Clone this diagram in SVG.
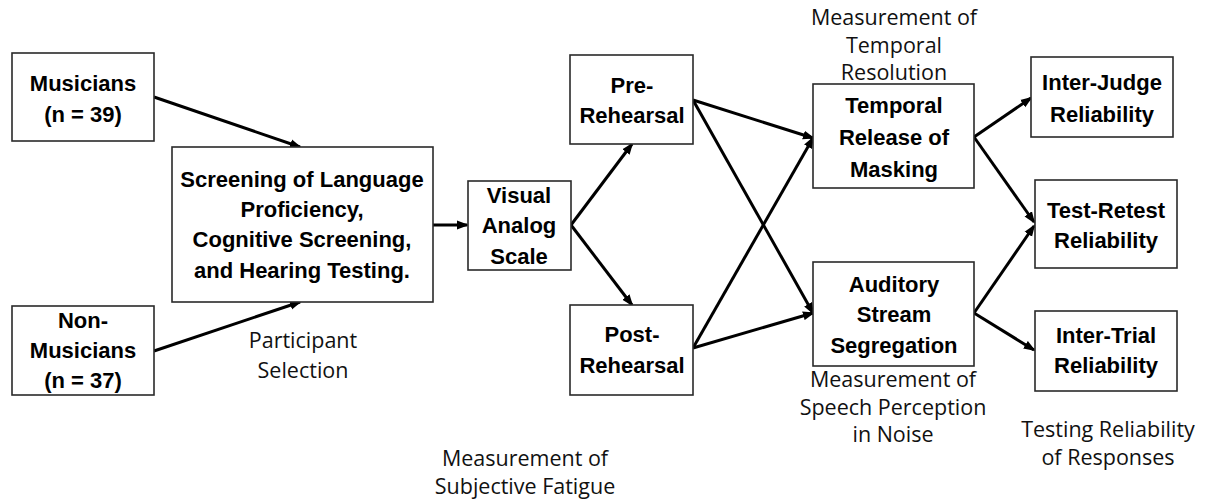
<svg xmlns="http://www.w3.org/2000/svg" width="1205" height="504" viewBox="0 0 1205 504">
<style>
.box{fill:#fff;stroke:#2a2a2a;stroke-width:1.6}
.t{font-family:"Liberation Sans",Arial,sans-serif;font-weight:bold;font-size:22px;fill:#000;text-anchor:middle}
.l{font-family:"Open Sans","Liberation Sans",sans-serif;font-size:21.5px;fill:#111;text-anchor:middle}
.c{stroke:#000;stroke-width:3;fill:none;marker-end:url(#ah)}
</style>
<defs>
<marker id="ah" markerUnits="userSpaceOnUse" markerWidth="12" markerHeight="10" refX="10" refY="5" orient="auto">
<path d="M0,0.5 L12,5 L0,9.5 Z" fill="#000"/>
</marker>
</defs>
<rect width="1205" height="504" fill="#fff"/>
<g id="connectors">
<line class="c" x1="154" y1="97" x2="300" y2="147"/>
<line class="c" x1="154" y1="351" x2="300" y2="302"/>
<line class="c" x1="433" y1="225" x2="467" y2="225"/>
<line class="c" x1="571" y1="225" x2="632" y2="144"/>
<line class="c" x1="571" y1="225" x2="632" y2="305"/>
<line class="c" x1="693" y1="100" x2="813" y2="138"/>
<line class="c" x1="693" y1="100" x2="813" y2="313"/>
<line class="c" x1="693" y1="348" x2="813" y2="138"/>
<line class="c" x1="693" y1="348" x2="813" y2="313"/>
<line class="c" x1="974" y1="137" x2="1031" y2="98"/>
<line class="c" x1="974" y1="137" x2="1034" y2="222"/>
<line class="c" x1="974" y1="313" x2="1034" y2="226"/>
<line class="c" x1="974" y1="313" x2="1034" y2="350"/>
</g>
<g id="musicians">
<rect class="box" x="12" y="53" width="142" height="88"/>
<text class="t" x="83" y="91">Musicians</text>
<text class="t" x="83" y="122">(n = 39)</text>
</g>
<g id="non-musicians">
<rect class="box" x="12" y="306" width="142" height="89"/>
<text class="t" x="83" y="328">Non-</text>
<text class="t" x="83" y="358">Musicians</text>
<text class="t" x="83" y="388">(n = 37)</text>
</g>
<g id="screening">
<rect class="box" x="172" y="147" width="261" height="155"/>
<text class="t" x="302" y="187">Screening of Language</text>
<text class="t" x="302" y="217">Proficiency,</text>
<text class="t" x="302" y="247">Cognitive Screening,</text>
<text class="t" x="302" y="278">and Hearing Testing.</text>
</g>
<g id="participant-selection">
<text class="l" x="303" y="348">Participant</text>
<text class="l" x="303" y="378">Selection</text>
</g>
<g id="vas">
<rect class="box" x="468" y="181" width="103" height="89"/>
<text class="t" x="519" y="203">Visual</text>
<text class="t" x="519" y="233">Analog</text>
<text class="t" x="519" y="264">Scale</text>
</g>
<g id="pre-rehearsal">
<rect class="box" x="570" y="55" width="123" height="89"/>
<text class="t" x="632" y="93">Pre-</text>
<text class="t" x="632" y="123">Rehearsal</text>
</g>
<g id="post-rehearsal">
<rect class="box" x="570" y="305" width="123" height="90"/>
<text class="t" x="632" y="342">Post-</text>
<text class="t" x="632" y="373">Rehearsal</text>
</g>
<g id="subjective-fatigue">
<text class="l" x="525" y="466">Measurement of</text>
<text class="l" x="525" y="494">Subjective Fatigue</text>
</g>
<g id="temporal-resolution-label">
<text class="l" x="894" y="25">Measurement of</text>
<text class="l" x="894" y="53">Temporal</text>
<text class="l" x="894" y="80">Resolution</text>
</g>
<g id="trm">
<rect class="box" x="813" y="84" width="161" height="104"/>
<text class="t" x="894" y="113">Temporal</text>
<text class="t" x="894" y="145">Release of</text>
<text class="t" x="894" y="177">Masking</text>
</g>
<g id="ass">
<rect class="box" x="813" y="262" width="161" height="104"/>
<text class="t" x="894" y="292">Auditory</text>
<text class="t" x="894" y="322">Stream</text>
<text class="t" x="894" y="353">Segregation</text>
</g>
<g id="speech-label">
<text class="l" x="893" y="387">Measurement of</text>
<text class="l" x="893" y="415">Speech Perception</text>
<text class="l" x="893" y="442">in Noise</text>
</g>
<g id="inter-judge">
<rect class="box" x="1031" y="57" width="142" height="80"/>
<text class="t" x="1102" y="90">Inter-Judge</text>
<text class="t" x="1102" y="122">Reliability</text>
</g>
<g id="test-retest">
<rect class="box" x="1035" y="180" width="142" height="88"/>
<text class="t" x="1106" y="218">Test-Retest</text>
<text class="t" x="1106" y="248">Reliability</text>
</g>
<g id="inter-trial">
<rect class="box" x="1035" y="311" width="142" height="80"/>
<text class="t" x="1106" y="343">Inter-Trial</text>
<text class="t" x="1106" y="373">Reliability</text>
</g>
<g id="reliability-label">
<text class="l" x="1108" y="437">Testing Reliability</text>
<text class="l" x="1108" y="465">of Responses</text>
</g>
</svg>
